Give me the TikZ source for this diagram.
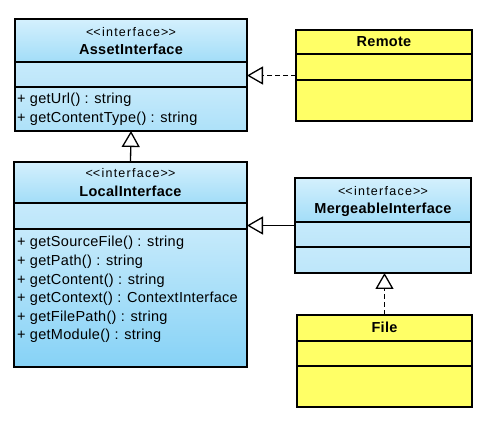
\documentclass[tikz,border=0pt]{standalone}
\usepackage{fontspec}
\setmainfont{Liberation Sans}
\newfontfamily\stereofont{Liberation Sans}[LetterSpace=10]
\newfontfamily\memberfont{Liberation Sans}[LetterSpace=2]
\newfontfamily\titlefont{Liberation Sans}[LetterSpace=2]
\usetikzlibrary{arrows.meta,fit}
\definecolor{bluetop}{HTML}{D4F0FD}
\definecolor{bluemid}{HTML}{A2DDF8}
\definecolor{bluelight}{HTML}{C6EAFB}
\definecolor{bluelight2}{HTML}{BDE6FA}
\definecolor{bluedeep}{HTML}{86D2F6}
\definecolor{bluesoft}{HTML}{ADE1F9}
\definecolor{umlyellow}{HTML}{FFFF66}
\begin{document}
\begin{tikzpicture}[x=1pt,y=-1pt,
  classframe/.style={draw=black, line width=2pt, inner sep=0pt, outer sep=0pt},
  divider/.style={draw=black, line width=2pt},
  stereo/.style={anchor=base, inner sep=0pt, font=\stereofont\fontsize{12.5}{12.5}\selectfont},
  ctitle/.style={anchor=base, inner sep=0pt, font=\titlefont\fontsize{14.5}{14.5}\selectfont\bfseries},
  member/.style={anchor=base west, inner sep=0pt, font=\memberfont\fontsize{14.5}{14.5}\selectfont},
  realize/.style={line width=1.3pt, dash pattern=on 5pt off 3pt,
    -{Triangle[open, length=16pt, width=18pt, line width=1.3pt]}},
  generalize/.style={line width=1.3pt,
    -{Triangle[open, length=16pt, width=18pt, line width=1.3pt]}}]
\fill[white] (0,0) rectangle (496,427);
\useasboundingbox (0,0) rectangle (496,427);

% ---------- AssetInterface ----------
\shade[top color=bluetop, bottom color=bluemid] (15,19) rectangle (247,62);
\shade[top color=bluelight, bottom color=bluelight2] (15,62) rectangle (247,87);
\shade[top color=bluelight, bottom color=bluesoft] (15,87) rectangle (247,131);
\node[classframe, fit={(15,19) (247,131)}] (asset) {};
\draw[divider] (15,62) -- (247,62);
\draw[divider] (15,87) -- (247,87);
\node[stereo] (assetst) at (131,36.5) {<\kern0pt<interface>\kern0pt>};
\node[ctitle] (assettt) at (131,55) {AssetInterface};
\node[member] (am1) at (17,104) {+ getUrl() : string};
\node[member] (am2) at (17,123) {+ getContentType() : string};

% ---------- LocalInterface ----------
\shade[top color=bluetop, bottom color=bluemid] (14,162) rectangle (247,203);
\shade[top color=bluelight, bottom color=bluelight2] (14,203) rectangle (247,229);
\shade[top color=bluelight, bottom color=bluedeep] (14,229) rectangle (247,367);
\node[classframe, fit={(14,162) (247,367)}] (local) {};
\draw[divider] (14,203) -- (247,203);
\draw[divider] (14,229) -- (247,229);
\node[stereo] (localst) at (130.5,177.5) {<\kern0pt<interface>\kern0pt>};
\node[ctitle] (localtt) at (130.5,197) {LocalInterface};
\node[member] (lm1) at (17,247) {+ getSourceFile() : string};
\node[member] (lm2) at (17,265.6) {+ getPath() : string};
\node[member] (lm3) at (17,284.2) {+ getContent() : string};
\node[member] (lm4) at (17,302.8) {+ getContext() : ContextInterface};
\node[member] (lm5) at (17,321.4) {+ getFilePath() : string};
\node[member] (lm6) at (17,340) {+ getModule() : string};

% ---------- Remote ----------
\fill[umlyellow] (296,30) rectangle (472,121);
\node[classframe, fit={(296,30) (472,121)}] (remote) {};
\draw[divider] (296,54) -- (472,54);
\draw[divider] (296,80) -- (472,80);
\node[ctitle] (remotett) at (384,47) {Remote};

% ---------- MergeableInterface ----------
\shade[top color=bluetop, bottom color=bluemid] (295,178) rectangle (471,222);
\shade[top color=bluelight, bottom color=bluelight2] (295,222) rectangle (471,247);
\shade[top color=bluelight, bottom color=bluelight2] (295,247) rectangle (471,273);
\node[classframe, fit={(295,178) (471,273)}] (merge) {};
\draw[divider] (295,222) -- (471,222);
\draw[divider] (295,247) -- (471,247);
\node[stereo] (mergest) at (383,195.5) {<\kern0pt<interface>\kern0pt>};
\node[ctitle] (mergett) at (383,214) {MergeableInterface};

% ---------- File ----------
\fill[umlyellow] (297,315) rectangle (472,407);
\node[classframe, fit={(297,315) (472,407)}] (file) {};
\draw[divider] (297,341) -- (472,341);
\draw[divider] (297,366) -- (472,366);
\node[ctitle] (filett) at (384.5,333) {File};

% ---------- connectors ----------
\draw[generalize] (local.north) -- (asset.south);
\draw[realize] (remote.west) -- (remote.west -| asset.east);
\draw[generalize] (merge.west) -- (merge.west -| local.east);
\draw[realize] (file.north) -- (merge.south -| file.north);
\end{tikzpicture}
\end{document}
